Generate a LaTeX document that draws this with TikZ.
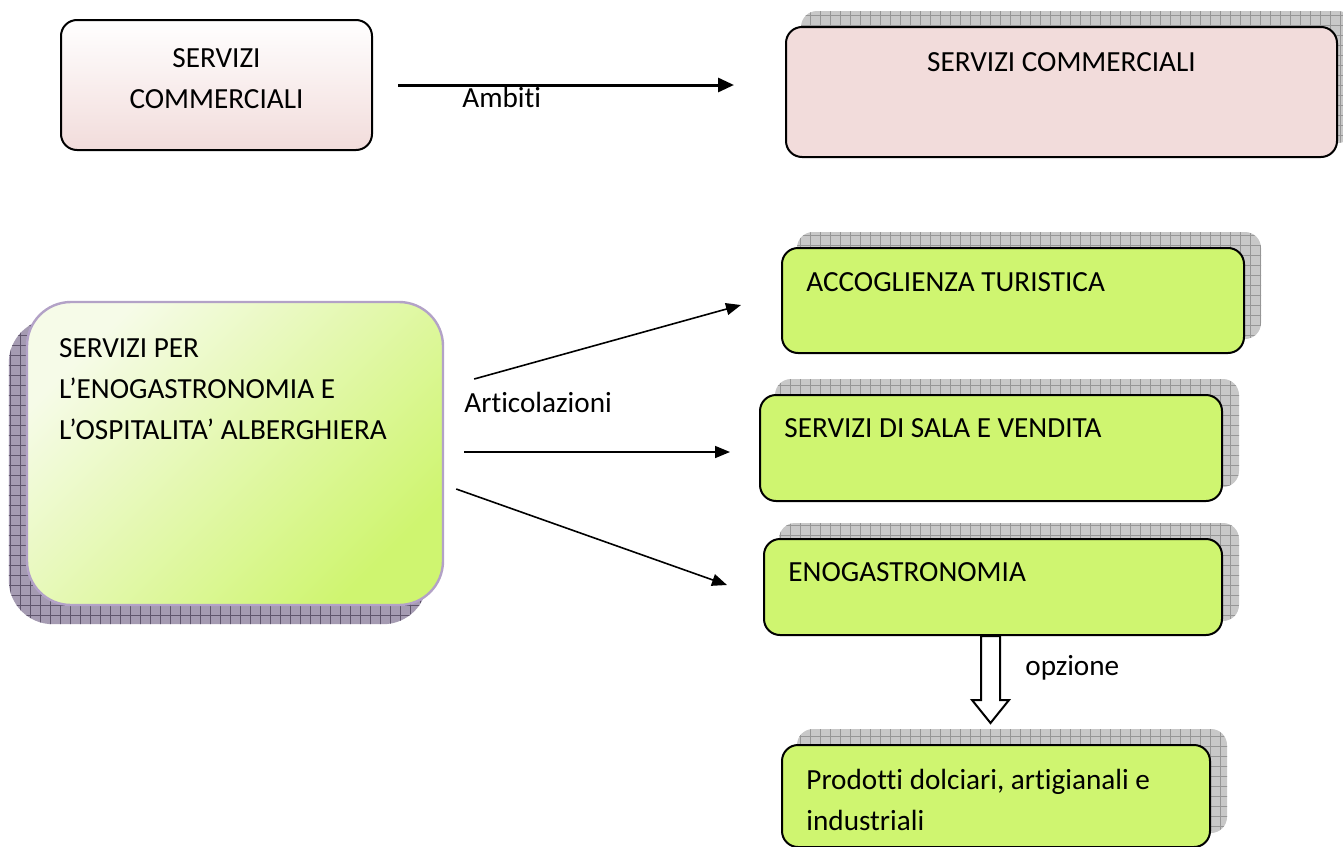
\documentclass[tikz,border=0pt]{standalone}
\usepackage{fontspec}
\setmainfont{Carlito}[Ligatures={NoCommon,NoContextual}]
\usetikzlibrary{arrows.meta,backgrounds,patterns.meta}

\definecolor{pinkfill}{RGB}{242,220,219}
\definecolor{limefill}{RGB}{207,245,112}
\definecolor{limelight}{RGB}{246,251,232}
\definecolor{lilac}{RGB}{179,162,199}
\definecolor{shadegrey}{RGB}{200,200,200}
\definecolor{gridgrey}{RGB}{150,150,150}
\definecolor{shadelilac}{RGB}{165,155,178}
\definecolor{gridlilac}{RGB}{95,85,108}

\begin{document}
\begin{tikzpicture}[x=0.5pt,y=-0.5pt,inner sep=0pt,>={Triangle[length=7.5pt,width=6pt]},
                    font=\fontsize{14.6}{20.5}\selectfont]
  \tikzstyle{box}=[draw=black,line width=1pt,rounded corners=8pt]
  \tikzstyle{pinkbox}=[box,fill=pinkfill]
  \tikzstyle{limebox}=[box,fill=limefill]
  \tikzstyle{boxshadow}=[fill=shadegrey,rounded corners=8pt,pattern color=gridgrey,
      postaction={pattern={Hatch[angle=0,distance=5pt,line width=0.5pt]}}]
  \tikzstyle{link}=[->,line width=0.8pt]

  \useasboundingbox (0,0) rectangle (1343,846);

  \node[box,top color=white,bottom color=pinkfill,minimum width=155.5pt,minimum height=65pt]
        (comm1) at (216.5,85) {};
  \node[pinkbox,minimum width=275.5pt,minimum height=65pt] (comm2) at (1061.5,92) {};
  \node[box,draw=lilac,line width=1.2pt,rounded corners=22pt,
        top color=limelight,bottom color=limefill,shading angle=45,
        minimum width=208pt,minimum height=151.5pt] (enoho) at (235,453.5) {};
  \node[limebox,minimum width=231pt,minimum height=52.5pt] (acc)  at (1013,300.5) {};
  \node[limebox,minimum width=231pt,minimum height=53pt]   (sala) at (991,448) {};
  \node[limebox,minimum width=229pt,minimum height=48pt]   (enog) at (993,587) {};
  \node[limebox,minimum width=214pt,minimum height=51pt]   (prod) at (996,796) {};

  % box texts
  \node[anchor=north,align=center] (comm1txt) at ([shift={(0,29)}]comm1.north)
        {SERVIZI\\COMMERCIALI};
  \node[anchor=base] (comm2txt) at ([shift={(0,45)}]comm2.north) {SERVIZI COMMERCIALI};
  \node[anchor=north west,align=left] (enohotxt) at ([shift={(33,37)}]enoho.north west)
        {SERVIZI PER\\L’ENOGASTRONOMIA E\\L’OSPITALITA’ ALBERGHIERA};
  \node[anchor=base west] (acctxt)  at ([shift={(25,44)}]acc.north west)  {ACCOGLIENZA TURISTICA};
  \node[anchor=base west] (salatxt) at ([shift={(25,43)}]sala.north west) {SERVIZI DI SALA E VENDITA};
  \node[anchor=base west] (enogtxt) at ([shift={(25,43)}]enog.north west) {ENOGASTRONOMIA};
  \node[anchor=north west,align=left] (prodtxt) at ([shift={(25,25)}]prod.north west)
        {Prodotti dolciari, artigianali e\\industriali};

  % shadows
  \begin{scope}[on background layer]
    \path[boxshadow] ([shift={(16,-15)}]comm2.south west) rectangle ([shift={(16,-15)}]comm2.north east);
    \path[boxshadow] ([shift={(16,-15)}]acc.south west) rectangle ([shift={(16,-15)}]acc.north east);
    \path[boxshadow] ([shift={(16,-15)}]sala.south west) rectangle ([shift={(16,-15)}]sala.north east);
    \path[boxshadow] ([shift={(16,-15)}]enog.south west) rectangle ([shift={(16,-15)}]enog.north east);
    \path[boxshadow] ([shift={(16,-15)}]prod.south west) rectangle ([shift={(16,-15)}]prod.north east);
    \path[boxshadow,fill=shadelilac,rounded corners=22pt,pattern color=gridlilac]
        ([shift={(-17,18)}]enoho.south west) rectangle ([shift={(-17,18)}]enoho.north east);
  \end{scope}

  % arrows
  \draw[link,line width=1.5pt,>={Triangle[length=8pt,width=7pt]}]
        ([xshift=12.5pt]comm1.east) -- ([shift={(-51,-7)}]comm2.west);
  \node[anchor=base west] (ambiti) at (462,107) {Ambiti};

  \coordinate (s1) at ([shift={(30,-74.5)}]enoho.east);
  \coordinate (s2) at ([shift={(20,-1.5)}]enoho.east);
  \coordinate (s3) at ([shift={(12,35.5)}]enoho.east);
  \draw[link] (s1) -- ([shift={(-40,4.5)}]acc.west);
  \draw[link] (s2) -- ([shift={(-29,4)}]sala.west);
  \draw[link] (s3) -- ([shift={(-36,-2)}]enog.west);
  \node[anchor=base west] (artic) at (464,412) {Articolazioni};

  \draw[line width=1pt,fill=white] ([xshift=-6pt]enog.south) -- ++(0,64) -- ++(-9,0)
        -- ++(18.5,23) -- ++(18.5,-23) -- ++(-9,0) -- ++(0,-64) -- cycle;
  \node[anchor=base west] (opz) at (1025,675) {opzione};
\end{tikzpicture}
\end{document}
